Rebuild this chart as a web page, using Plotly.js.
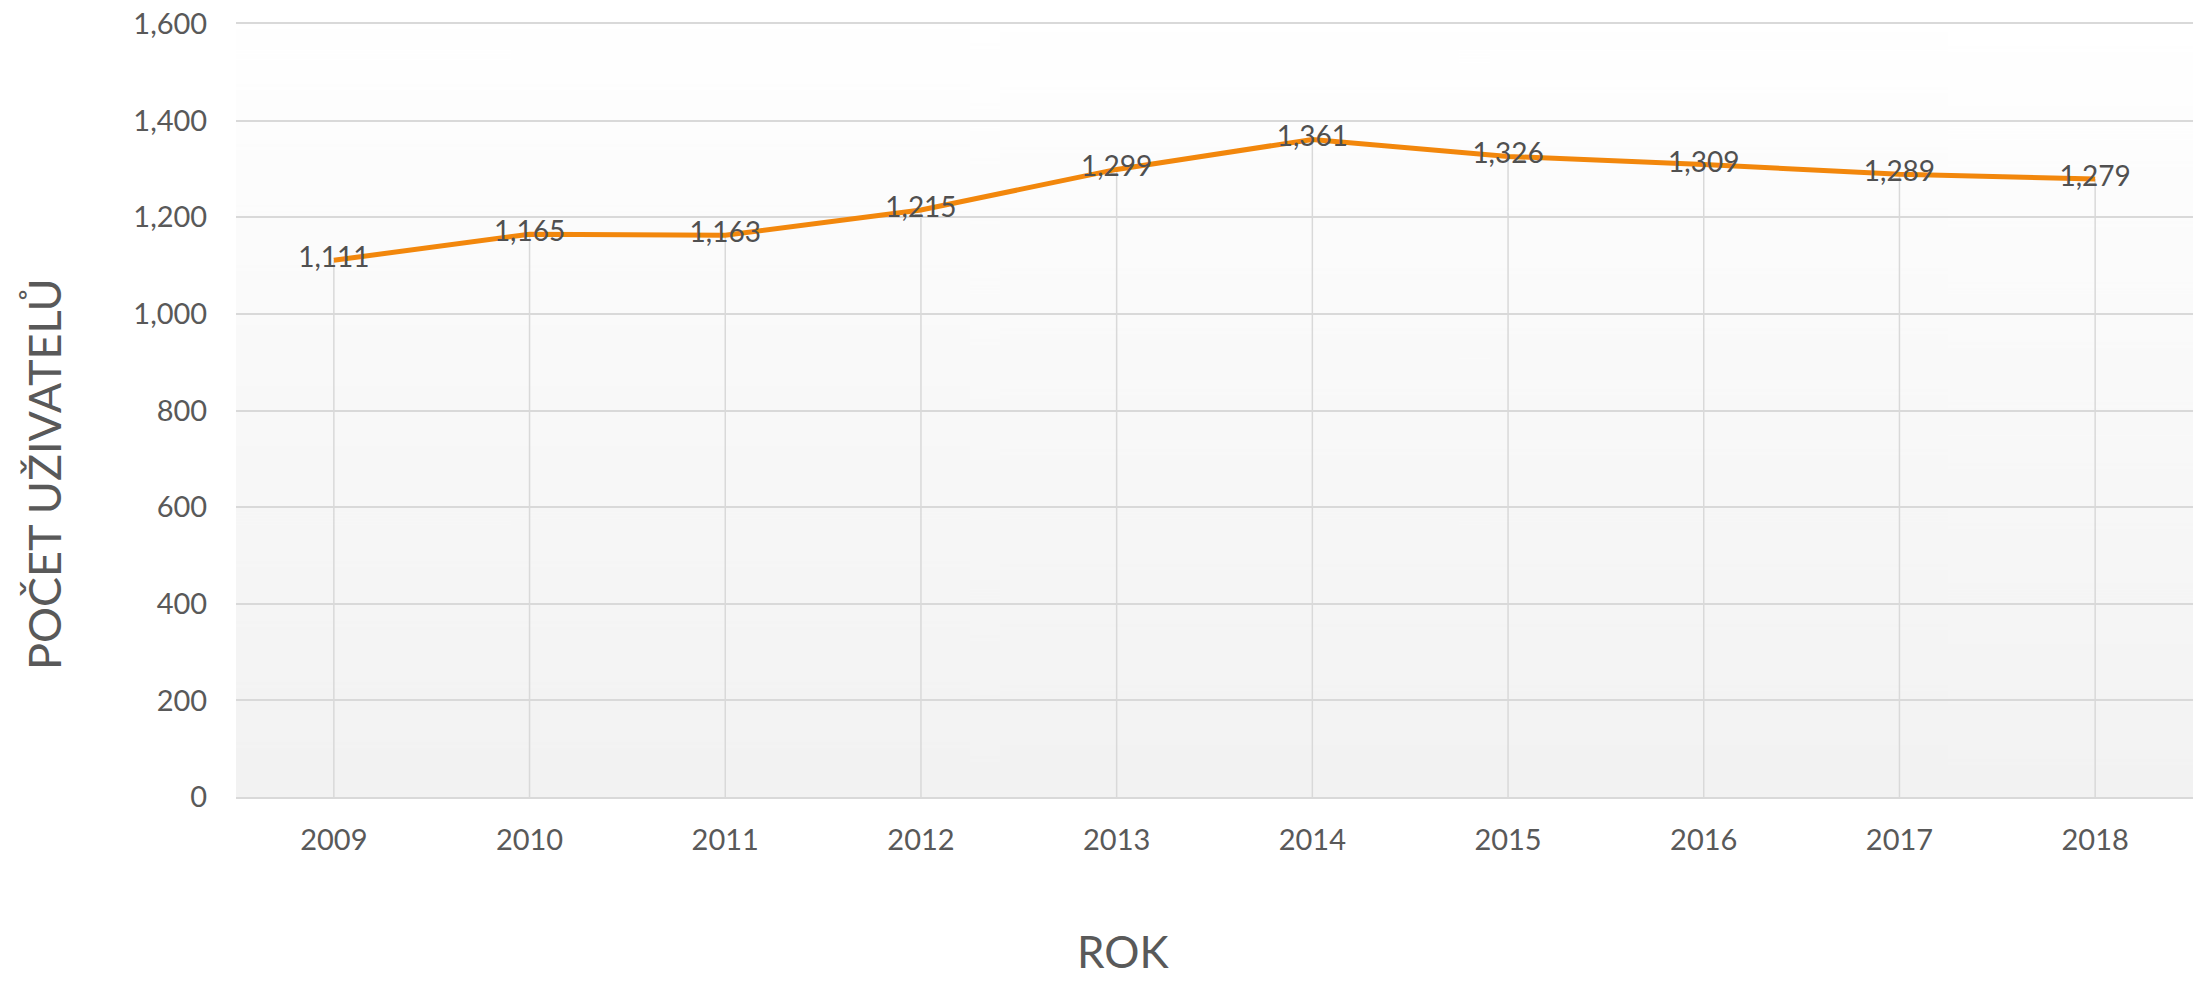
<!DOCTYPE html>
<html>
<head>
<meta charset="utf-8">
<script src="https://cdn.plot.ly/plotly-3.0.1.min.js"></script>
<style>html,body{margin:0;padding:0;background:#fff;}#chart{width:2193px;height:982px;}</style>
</head>
<body>
<div id="chart"></div>
<script>
const years = ["2009","2010","2011","2012","2013","2014","2015","2016","2017","2018"];
const users = [1111,1165,1163,1215,1299,1361,1326,1309,1289,1279];
const yTicks = [0,200,400,600,800,1000,1200,1400,1600];
const yTickLabels = ["0","200","400","600","800","1,000","1,200","1,400","1,600"];
const labels = users.map(v => v.toLocaleString("en-US"));
const dropZero = users.map(() => 0);

// vertical gradient for the plot background
const cv = document.createElement("canvas");
cv.width = 4; cv.height = 512;
const ctx = cv.getContext("2d");
const g = ctx.createLinearGradient(0, 0, 0, 512);
g.addColorStop(0, "#ffffff");
g.addColorStop(1, "#f2f2f2");
ctx.fillStyle = g;
ctx.fillRect(0, 0, 4, 512);
const bgURL = cv.toDataURL("image/png");

const font = "Lato, 'Open Sans', sans-serif";

const trace = {
  type: "scatter",
  mode: "lines+text",
  x: years,
  y: users,
  text: labels,
  textposition: "middle center",
  textfont: {family: font, size: 28, color: "#505050"},
  line: {color: "#F2870C", width: 5},
  error_y: {
    type: "data", symmetric: false,
    array: dropZero, arrayminus: users,
    color: "#d9d9d9", thickness: 1.5, width: 0
  },
  cliponaxis: false,
  hoverinfo: "x+y"
};

const layout = {
  width: 2193,
  height: 982,
  margin: {l: 236, r: 0, t: 24, b: 185},
  paper_bgcolor: "#ffffff",
  plot_bgcolor: "rgba(0,0,0,0)",
  showlegend: false,
  font: {family: font, color: "#595959"},
  images: [{
    source: bgURL, xref: "paper", yref: "paper",
    x: 0, y: 1, sizex: 1, sizey: 1, sizing: "stretch",
    xanchor: "left", yanchor: "top", layer: "below"
  }],
  xaxis: {
    type: "category",
    range: [-0.5, 9.5],
    showgrid: false,
    showline: true,
    mirror: true,
    linecolor: "#d9d9d9",
    linewidth: 2,
    ticks: "outside",
    ticklen: 16,
    tickcolor: "rgba(0,0,0,0)",
    tickfont: {family: font, size: 29, color: "#595959"},
    fixedrange: true
  },
  yaxis: {
    range: [0, 1600],
    tickvals: yTicks,
    ticktext: yTickLabels,
    showgrid: true,
    gridcolor: "#d9d9d9",
    gridwidth: 2,
    zeroline: false,
    showline: false,
    ticks: "outside",
    ticklen: 22,
    tickcolor: "rgba(0,0,0,0)",
    tickfont: {family: font, size: 29, color: "#595959"},
    fixedrange: true
  },
  annotations: [
    {
      text: "ROK", showarrow: false,
      xref: "paper", yref: "paper",
      x: (1123 - 236) / 1957, y: -(951 - 797) / 773,
      xanchor: "center", yanchor: "middle",
      font: {family: font, size: 44, color: "#595959"}
    },
    {
      text: "POČET UŽIVATELŮ", showarrow: false, textangle: -90,
      xref: "paper", yref: "paper",
      x: -(236 - 44) / 1957, y: (797 - 474) / 773,
      xanchor: "center", yanchor: "middle",
      font: {family: font, size: 45, color: "#595959"}
    }
  ]
};

Plotly.newPlot("chart", [trace], layout, {displayModeBar: false, staticPlot: true});
</script>
</body>
</html>
